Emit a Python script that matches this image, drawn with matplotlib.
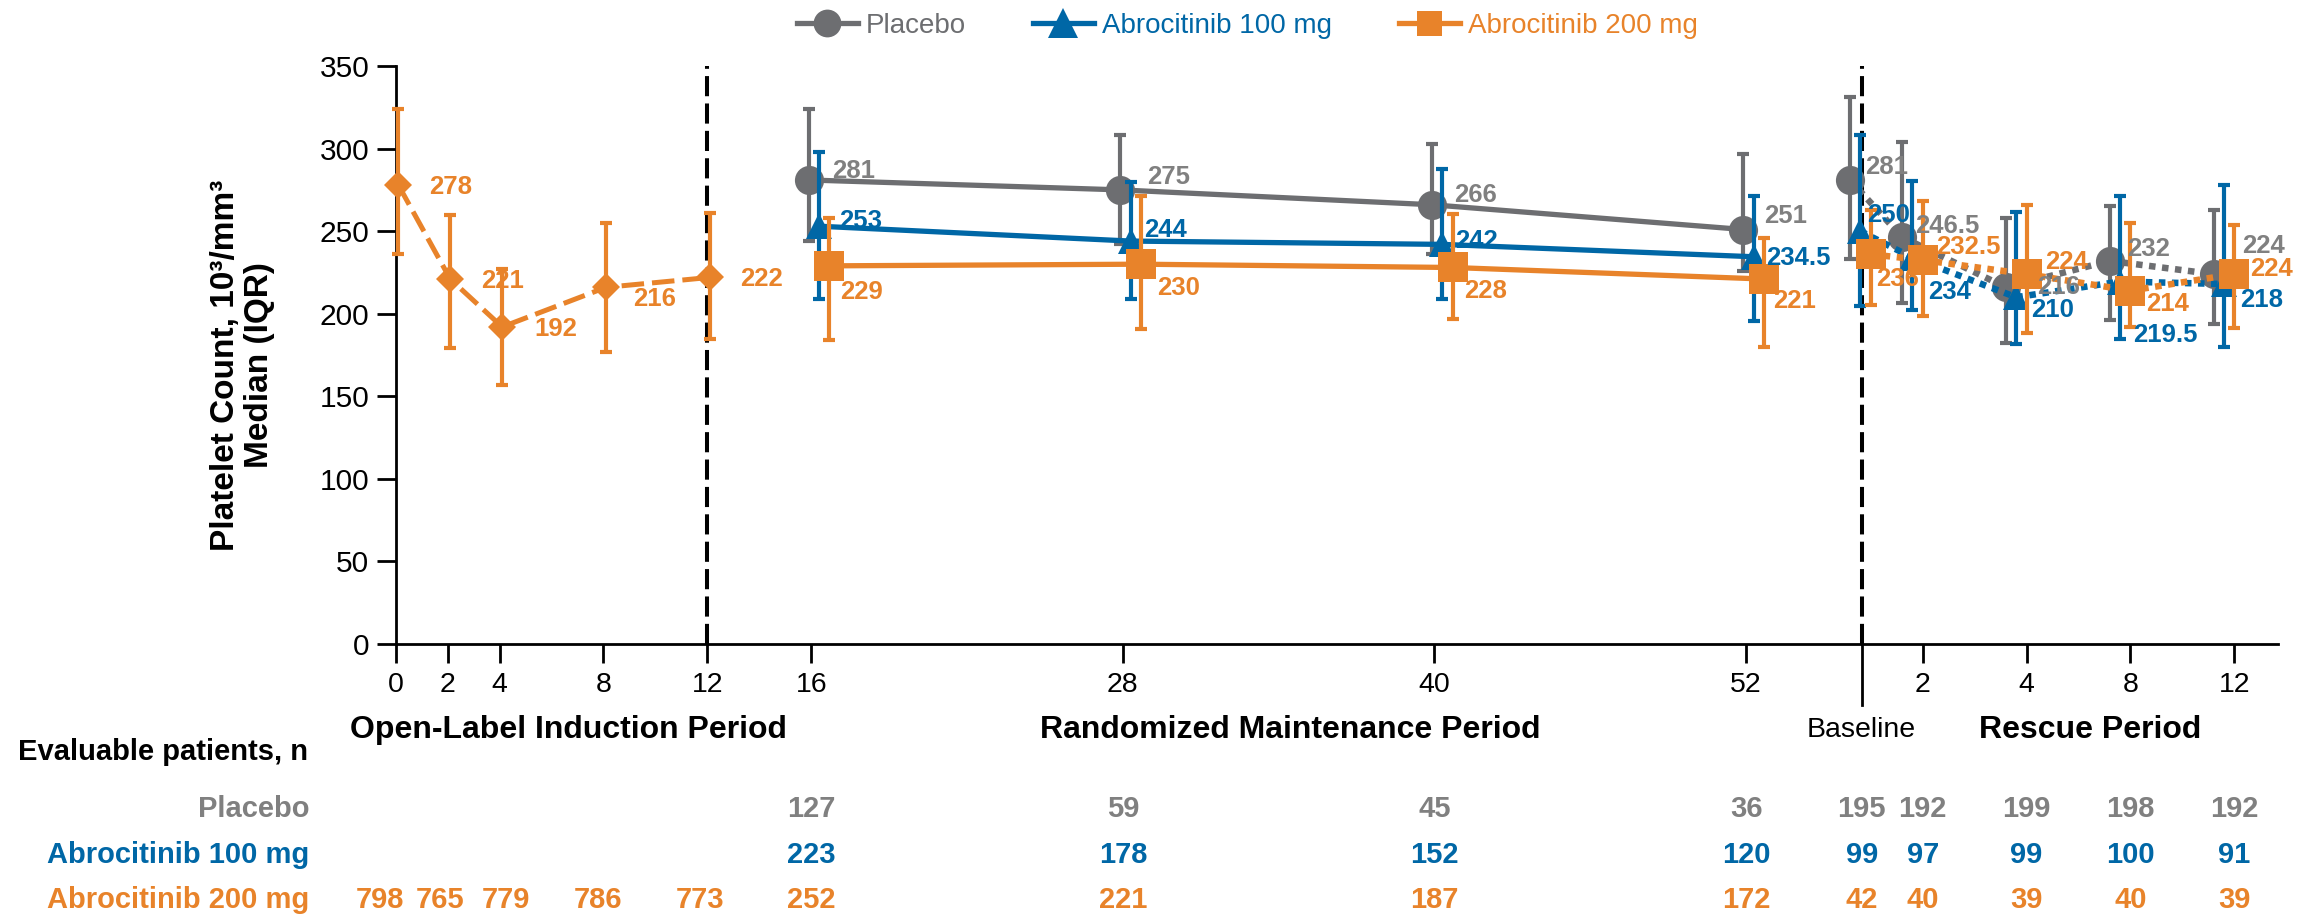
import numpy as np
import matplotlib.pyplot as plt
from matplotlib.lines import Line2D
from matplotlib import transforms

plt.rcParams['font.family'] = ['Liberation Sans', 'DejaVu Sans']

# Open-label induction period (all patients on abrocitinib 200 mg)
ol_weeks = [0, 2, 4, 8, 12]
ol_med = [278, 221, 192, 216, 222]
ol_q1 = [236, 179, 157, 177, 185]
ol_q3 = [324, 260, 227, 255, 261]
ol_n = [798, 765, 779, 786, 773]

# Randomized maintenance period
rm_weeks = [16, 28, 40, 52]
pbo_rm_med = [281, 275, 266, 251]
pbo_rm_q1 = [244, 242, 236, 226]
pbo_rm_q3 = [324, 308, 303, 297]
a100_rm_med = [253, 244, 242, 234.5]
a100_rm_q1 = [209, 209, 209, 195.5]
a100_rm_q3 = [298, 280, 287.5, 271]
a200_rm_med = [229, 230, 228, 221]
a200_rm_q1 = [184, 190.5, 197, 180]
a200_rm_q3 = [258, 271, 260.5, 246]
pbo_rm_n = [127, 59, 45, 36]
a100_rm_n = [223, 178, 152, 120]
a200_rm_n = [252, 221, 187, 172]

# Rescue period (week 0 = rescue baseline)
rs_weeks = [0, 2, 4, 8, 12]
pbo_rs_med = [281, 246.5, 216, 232, 224]
pbo_rs_q1 = [233, 206.5, 182, 196, 193.5]
pbo_rs_q3 = [331, 304, 258, 265, 263]
a100_rs_med = [250, 234, 210, 219.5, 218]
a100_rs_q1 = [204.5, 202, 181.5, 184.5, 180]
a100_rs_q3 = [308.5, 280.5, 261.5, 271, 278]
a200_rs_med = [236, 232.5, 224, 214, 224]
a200_rs_q1 = [205.5, 198.5, 188.5, 192, 191.5]
a200_rs_q3 = [263, 268, 266, 255, 254]
pbo_rs_n = [195, 192, 199, 198, 192]
a100_rs_n = [99, 97, 99, 100, 91]
a200_rs_n = [42, 40, 39, 40, 39]

series_names = ['Placebo', 'Abrocitinib 100 mg', 'Abrocitinib 200 mg']

# ---- layout / style ----
GRAY, GRAY_TXT = '#6D6E71', '#808080'
BLUE = '#0067A6'
ORANGE = '#E8832A'

RESCUE_START = 56.1                      # where the rescue axis begins
rescue_slot = {0: 0, 2: 2, 4: 6, 8: 10, 12: 14}
dodge = [-0.1, 0.3, 0.7]                 # small horizontal offsets per arm


def rescue_x(weeks, off=0.0):
    return np.array([RESCUE_START + rescue_slot[w] for w in weeks]) + off


# label offsets in pixels (dx, dy) relative to each marker
ol_off = [(31, -2), (31, -2), (32, -2), (27, -12), (30, -2)]
rm_off = [[(24, 9), (27, 13), (22, 10), (21, 14)],
          [(20, 5), (14, 11), (13, 3), (12, -1)],
          [(11, -26), (16, -24), (11, -24), (9, -22)]]
rs_off = [[(15, 13), (13, 11), (31, 0), (17, 12), (29, 28)],
          [(7, 16), (16, -34), (15, -13), (13, -53), (16, -16)],
          [(5, -25), (13, 13), (19, 12), (16, -13), (16, 5)]]
ol_count_nudge = [-0.6, -0.3, 0.25, -0.2, -0.3]

fig = plt.figure(figsize=(23.1, 9.17), dpi=100)
ax = fig.add_axes([0.1713, 0.2977, 0.8147, 0.6303])
ax.set_xlim(0, 72.47)
ax.set_ylim(0, 350)


def draw(x, med, q1, q3, color, marker, ms, ls, lw, z):
    med = np.asarray(med, float)
    yerr = [med - np.asarray(q1), np.asarray(q3) - med]
    ax.plot(x, med, color=color, lw=lw, ls=ls, dash_capstyle='butt',
            clip_on=False, zorder=z)
    eb = ax.errorbar(x, med, yerr=yerr, fmt='none', ecolor=color,
                     elinewidth=3, capsize=4.5, capthick=3, zorder=z + 0.1)
    for art in eb.lines[1] + eb.lines[2]:
        art.set_clip_on(False)
    ax.plot(x, med, ls='none', marker=marker, ms=ms, color=color, mew=0,
            clip_on=False, zorder=z + 0.2)


def labels(x, med, offs, color):
    for xi, v, (dx, dy) in zip(x, med, offs):
        ax.annotate(f'{v:g}', (xi, v), xytext=(dx * 0.72, dy * 0.72),
                    textcoords='offset points', ha='left', va='center',
                    fontsize=18.5, fontweight='bold', color=color,
                    zorder=10, annotation_clip=False)


# period separators
ax.axvline(12, color='k', lw=2.9, ls=(0, (5, 1.8)), zorder=1)
base_x = RESCUE_START + 0.35
ax.axvline(base_x, color='k', lw=2.9, ls=(0, (5, 1.8)), zorder=1)
ax.plot([base_x, base_x], [0, -0.105], color='k', lw=2,
        transform=ax.get_xaxis_transform(), clip_on=False)

# open-label
ol_x = np.array(ol_weeks) + 0.1
draw(ol_x, ol_med, ol_q1, ol_q3, ORANGE, 'D', 14, (0, (4.5, 1.6)), 3.6, 5)
labels(ol_x, ol_med, ol_off, ORANGE)

arms = [
    (GRAY, GRAY_TXT, 'o', 21, pbo_rm_med, pbo_rm_q1, pbo_rm_q3,
     pbo_rs_med, pbo_rs_q1, pbo_rs_q3),
    (BLUE, BLUE, '^', 19, a100_rm_med, a100_rm_q1, a100_rm_q3,
     a100_rs_med, a100_rs_q1, a100_rs_q3),
    (ORANGE, ORANGE, 's', 21, a200_rm_med, a200_rm_q1, a200_rm_q3,
     a200_rs_med, a200_rs_q1, a200_rs_q3),
]
for i, (c, tc, m, ms, rmm, rq1, rq3, smm, sq1, sq3) in enumerate(arms):
    z = 3 + i
    xr = np.array(rm_weeks) + dodge[i]
    draw(xr, rmm, rq1, rq3, c, m, ms, '-', 3.8, z)
    labels(xr, rmm, rm_off[i], tc)
    xs = rescue_x(rs_weeks, dodge[i])
    draw(xs, smm, sq1, sq3, c, m, ms, (0, (1, 1)), 4.7, z)
    labels(xs, smm, rs_off[i], tc)

# axes styling
for s in ['top', 'right']:
    ax.spines[s].set_visible(False)
for s in ['left', 'bottom']:
    ax.spines[s].set_linewidth(2)
main_ticks = [0, 2, 4, 8, 12, 16, 28, 40, 52]
res_tick_x = rescue_x(rs_weeks[1:], 0.7)
ax.set_xticks(list(main_ticks) + list(res_tick_x))
ax.set_xticklabels([str(w) for w in main_ticks] + [str(w) for w in rs_weeks[1:]])
ax.set_yticks(np.arange(0, 351, 50))
ax.tick_params(axis='x', length=14, width=2, labelsize=20.5, pad=6)
ax.tick_params(axis='y', length=14, width=2, labelsize=21.5, pad=5)

fig.text(0.105, 0.602, 'Platelet Count, 10\u00b3/mm\u00b3\nMedian (IQR)',
         rotation=90, ha='center', va='center', fontsize=24,
         fontweight='bold', multialignment='center', linespacing=1.1)

# period labels
xt = ax.get_xaxis_transform()
ax.text(6.67, -0.149, 'Open-Label Induction Period', transform=xt,
        ha='center', va='center', fontsize=23, fontweight='bold')
ax.text(34.46, -0.149, 'Randomized Maintenance Period', transform=xt,
        ha='center', va='center', fontsize=23, fontweight='bold')
ax.text(65.23, -0.149, 'Rescue Period', transform=xt,
        ha='center', va='center', fontsize=23, fontweight='bold')
ax.text(base_x, -0.149, 'Baseline', transform=xt,
        ha='center', va='center', fontsize=20.5)

# evaluable patients table
fig.text(0.0077, 0.180, 'Evaluable patients, n', ha='left', va='center',
         fontsize=21, fontweight='bold')
row_y = [1 - 809 / 917, 1 - 855 / 917, 1 - 900 / 917]
row_col = [GRAY_TXT, BLUE, ORANGE]
for name, y, c in zip(series_names, row_y, row_col):
    fig.text(0.1338, y, name, ha='right', va='center', fontsize=21,
             fontweight='bold', color=c)

bt = transforms.blended_transform_factory(ax.transData, fig.transFigure)
count_x = list(rm_weeks) + [base_x] + list(res_tick_x)
count_rows = [pbo_rm_n + pbo_rs_n, a100_rm_n + a100_rs_n, a200_rm_n + a200_rs_n]
for vals, y, c in zip(count_rows, row_y, row_col):
    for xi, v in zip(count_x, vals):
        fig.text(xi, y, str(v), transform=bt, ha='center', va='center',
                 fontsize=21, fontweight='bold', color=c)
ol_count_x = np.array(ol_weeks, float) + np.array(ol_count_nudge)
for xi, v in zip(ol_count_x, ol_n):
    fig.text(xi, row_y[2], str(v), transform=bt, ha='center', va='center',
             fontsize=21, fontweight='bold', color=ORANGE)

# legend
handles = [Line2D([], [], color=GRAY, lw=3.8, marker='o', ms=20, mew=0),
           Line2D([], [], color=BLUE, lw=3.8, marker='^', ms=21, mew=0),
           Line2D([], [], color=ORANGE, lw=3.8, marker='s', ms=18, mew=0)]
fig.legend(handles, series_names, loc='center', bbox_to_anchor=(0.54, 0.972),
           ncol=3, frameon=False, fontsize=20, handlelength=2.2,
           handletextpad=0.3, columnspacing=2.4, labelcolor='linecolor')

fig.savefig('out.png', dpi=100)
